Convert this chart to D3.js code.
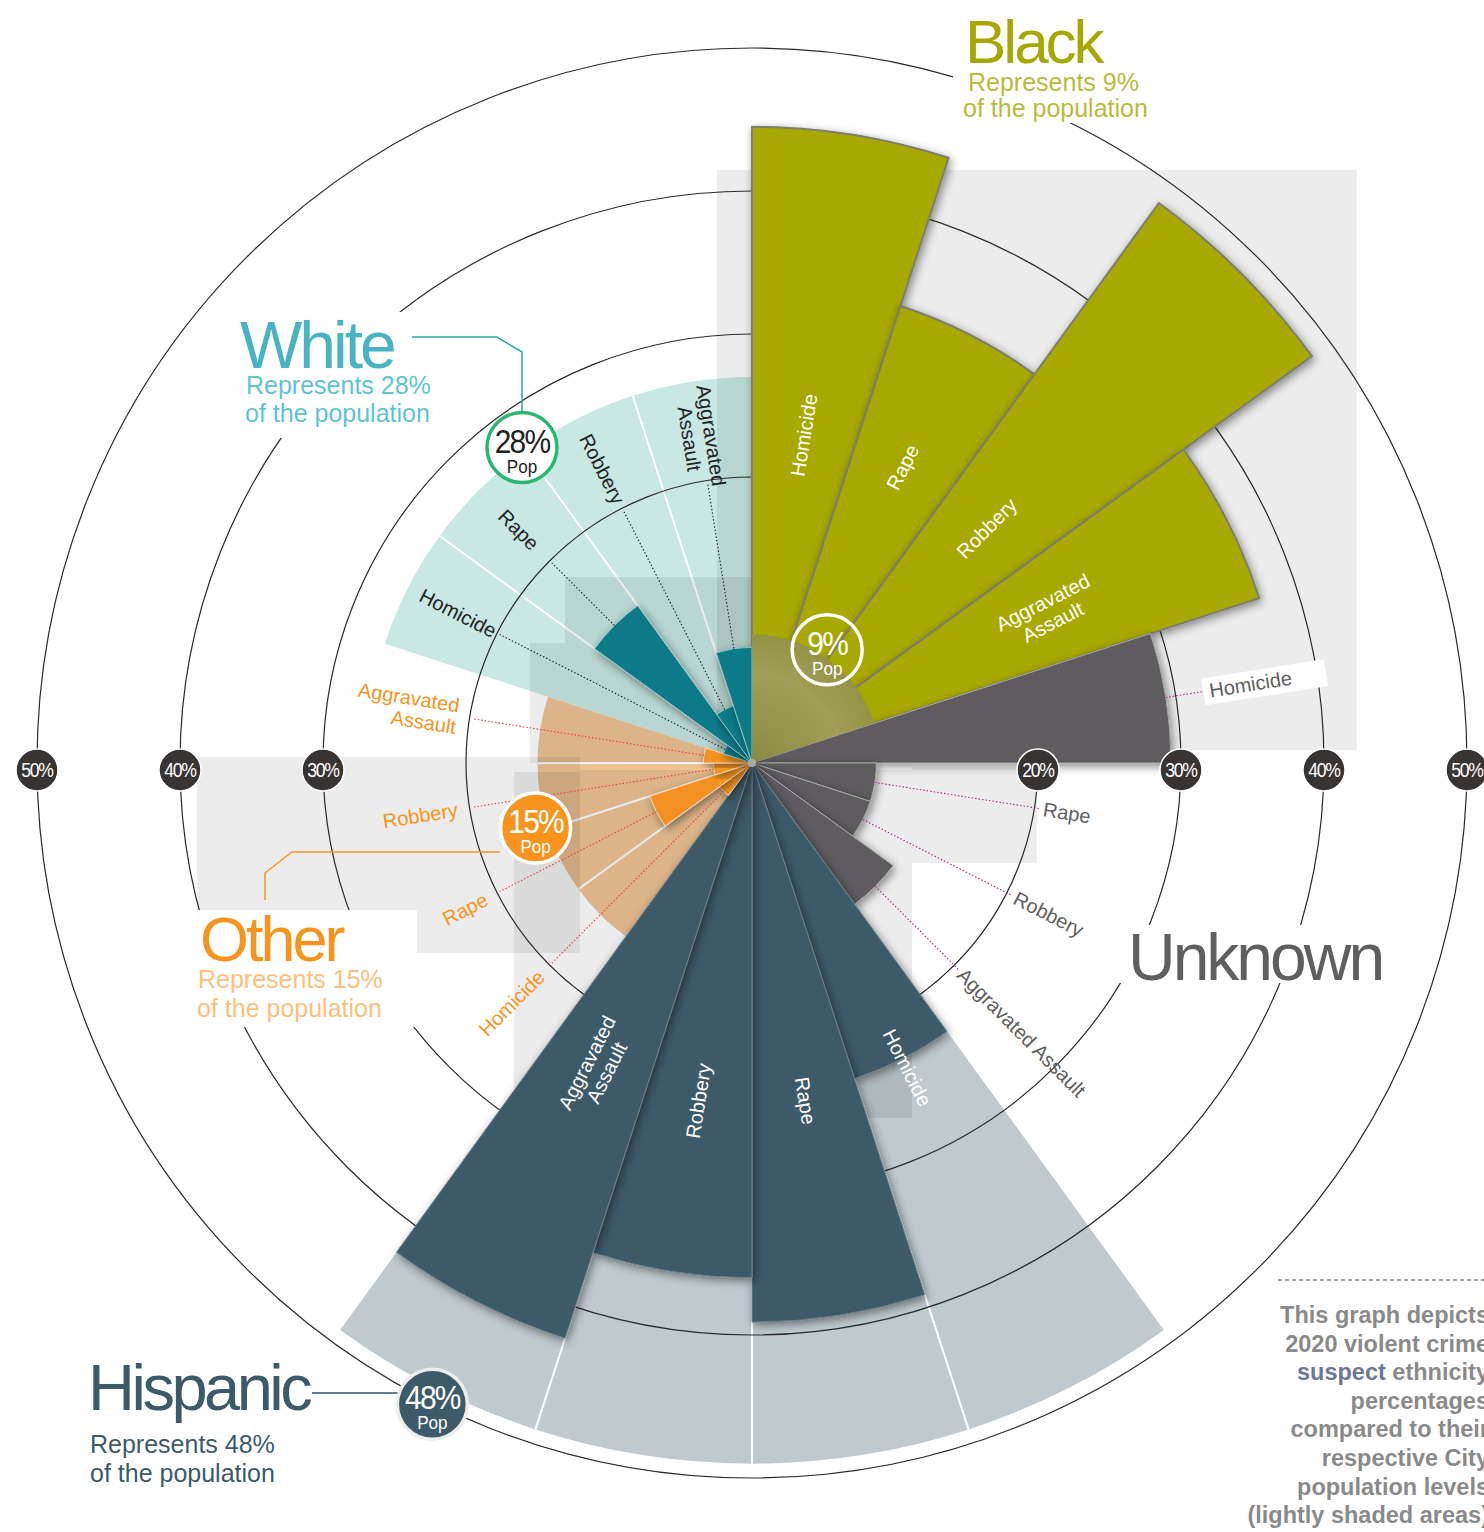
<!DOCTYPE html>
<html>
<head>
<meta charset="utf-8">
<script src="https://cdn.jsdelivr.net/npm/d3@7"></script>
<style>
body { margin: 0; background: #fff; overflow: hidden; }
svg { display: block; }
</style>
</head>
<body>
<svg id="chart"></svg>
<script>
// sections go clockwise from 12 o'clock, 4 crimes each
var ethnicities = ["Black", "Unknown", "Hispanic", "Other", "White"];
var crimes = ["Homicide", "Rape", "Robbery", "Aggravated Assault"];

// % of 2020 violent crime suspects
var blackPct    = [44.5, 33.6, 48.4, 37.3];
var unknownPct  = [29.3, 8.7, 8.7, 12.2];
var hispanicPct = [23.2, 39.1, 36.0, 42.3];
var otherPct    = [2.8, 7.5, 2.7, 3.4];
var whitePct    = [2.1, 13.6, 4.2, 8.1];

// population share (label) and how far the light shading is drawn
var popLabel = ["9%", "", "48%", "15%", "28%"];
var popShade = [9, 0, 49, 15, 27];

var ringTicks = [20, 30, 40, 50];
var leftTicks = [50, 40, 30];
var rightTicks = [20, 30, 40, 50];

var noteLines = ["This graph depicts", "2020 violent crime", "suspect ethnicity", "percentages",
	"compared to their", "respective City", "population levels", "(lightly shaded areas)"];

var WIDTH = 1484, HEIGHT = 1532;
var cx = 752, cy = 763;
var FONT = "'Liberation Sans', Arial, sans-serif";

var rScale = d3.scaleLinear().domain([0, 50]).range([0, 715]);
var slot = 2 * Math.PI / 20;

var sections = [
	{ vals: blackPct,    bar: "#a7a800", light: "#9d9a56", sep: "#7d7d70", txt: "#fff",    mode: "in",   labelR: 332 },
	{ vals: unknownPct,  bar: "#5e5c5f", light: null,      sep: "#a8a8a8", txt: "#5f5e60", mode: "out",  lead: "#a0288c" },
	{ vals: hispanicPct, bar: "#3d5a68", light: "#bfc9ce", sep: "#6d808b", txt: "#fff",    mode: "in",   labelR: 342 },
	{ vals: otherPct,    bar: "#f39220", light: "#efc394", sep: "#f5d6b4", txt: "#f7941d", mode: "lead", lead: "#e8413b" },
	{ vals: whitePct,    bar: "#0a7a89", light: "#c7e8e3", sep: "#8ec2c3", txt: "#222",    mode: "in",   labelR: 330, lead: "#222" }
];

var rows = [];
sections.forEach(function (s, si) {
	s.vals.forEach(function (v, ci) {
		var a0 = (si * 4 + ci) * slot;
		rows.push({ si: si, ci: ci, crime: crimes[ci], value: v, a0: a0, a1: a0 + slot, mid: a0 + slot / 2, sec: s });
	});
});

function pt(angle, rad) {
	return [rad * Math.sin(angle), -rad * Math.cos(angle)];
}

var svg = d3.select("#chart").attr("width", WIDTH).attr("height", HEIGHT);
var defs = svg.append("defs");
var filt = defs.append("filter").attr("id", "shadow")
	.attr("x", "-30%").attr("y", "-30%").attr("width", "160%").attr("height", "160%");
filt.append("feDropShadow").attr("dx", 2).attr("dy", 3).attr("stdDeviation", 5)
	.attr("flood-color", "#000").attr("flood-opacity", 0.45);

var grad = defs.append("radialGradient").attr("id", "blackPop").attr("cx", "0").attr("cy", "0").attr("r", "1")
	.attr("gradientUnits", "userSpaceOnUse").attr("gradientTransform", "scale(" + rScale(9) + ")");
grad.append("stop").attr("offset", "0%").attr("stop-color", "#8a8843");
grad.append("stop").attr("offset", "70%").attr("stop-color", "#a09e57");
grad.append("stop").attr("offset", "100%").attr("stop-color", "#959344");

var arc = d3.arc();

// ---- light population shading
var shadeLayer = svg.append("g").attr("transform", "translate(" + cx + "," + cy + ")");
sections.forEach(function (s, si) {
	if (!s.light || si === 0) return;
	shadeLayer.append("path")
		.attr("d", arc({ innerRadius: 0, outerRadius: rScale(popShade[si]), startAngle: si * 4 * slot, endAngle: (si + 1) * 4 * slot }))
		.attr("fill", s.light);
	for (var k = 1; k < 4; k++) {
		var p = pt((si * 4 + k) * slot, rScale(popShade[si]));
		shadeLayer.append("line").attr("x1", 0).attr("y1", 0).attr("x2", p[0]).attr("y2", p[1])
			.attr("stroke", "#fff").attr("stroke-width", 2);
	}
});

// ---- translucent grey panels behind the wheel
var panels = [
	[717, 170, 640, 580], [197, 757, 383, 153], [417, 910, 163, 43], [514, 772, 66, 163],
	[580, 770, 332, 348], [514, 935, 66, 183], [912, 767, 125, 96],
	[565, 577, 187, 66], [530, 643, 222, 120]
];
svg.append("g").selectAll("rect").data(panels).enter().append("rect")
	.attr("x", function (d) { return d[0]; }).attr("y", function (d) { return d[1]; })
	.attr("width", function (d) { return d[2]; }).attr("height", function (d) { return d[3]; })
	.attr("fill", "#000").attr("fill-opacity", 0.075);

// ---- rings
var g = svg.append("g").attr("transform", "translate(" + cx + "," + cy + ")");
g.selectAll(".ring").data(ringTicks).enter().append("circle")
	.attr("class", "ring").attr("r", function (d) { return rScale(d); })
	.attr("fill", "none").attr("stroke", "#2a2a2a").attr("stroke-width", 1.2);

// ---- bars
g.selectAll(".bar").data(rows).enter().append("path")
	.attr("class", "bar")
	.attr("d", function (d) { return arc({ innerRadius: 0, outerRadius: rScale(d.value), startAngle: d.a0, endAngle: d.a1 }); })
	.attr("fill", function (d) { return d.sec.bar; })
	.attr("stroke", function (d) { return d.sec.sep; })
	.attr("stroke-width", function (d) { return d.si === 0 ? 2 : 1; })
	.attr("filter", "url(#shadow)");

// black population shading sits on top of the olive bars
g.append("path")
	.attr("d", arc({ innerRadius: 0, outerRadius: rScale(popShade[0]), startAngle: 0, endAngle: 4 * slot }))
	.attr("fill", "url(#blackPop)");
g.append("circle").attr("r", 4).attr("fill", "#aaa");

// ---- leader lines
rows.forEach(function (d) {
	var s = d.sec;
	if (s.mode === "in" && d.si !== 4) return;
	var r0 = rScale(d.value), r1;
	if (s.mode === "out") r1 = Math.max(r0 + 40, 292);
	else r1 = rScale(19.8);
	var p0 = pt(d.mid, r0), p1 = pt(d.mid, r1);
	g.append("line").attr("x1", p0[0]).attr("y1", p0[1]).attr("x2", p1[0]).attr("y2", p1[1])
		.attr("stroke", s.lead).attr("stroke-width", 1.1).attr("stroke-dasharray", "1.5,2");
});

// ---- white boxes that break the rings behind the headings
var boxes = [[953, 0, 205, 123], [232, 312, 200, 126], [197, 910, 220, 117], [1118, 925, 270, 58]];
svg.append("g").selectAll("rect").data(boxes).enter().append("rect")
	.attr("x", function (d) { return d[0]; }).attr("y", function (d) { return d[1]; })
	.attr("width", function (d) { return d[2]; }).attr("height", function (d) { return d[3]; })
	.attr("fill", "#fff");

// ---- crime labels
rows.forEach(function (d) {
	var s = d.sec;
	var deg = d.mid * 180 / Math.PI;
	var rot = deg < 180 ? deg - 90 : deg - 270;
	var rad, anchor;
	if (s.mode === "in") { rad = s.labelR; anchor = "middle"; }
	else if (s.mode === "lead") { rad = 298; anchor = "end"; }
	else { rad = Math.max(rScale(d.value) + 44, 295); anchor = "start"; }
	var p = pt(d.mid, rad);
	var lg = g.append("g").attr("transform", "translate(" + p[0] + "," + p[1] + ") rotate(" + rot + ")");
	var twoLine = d.ci === 3 && s.mode !== "out";
	if (s.mode === "out" && d.ci === 0) {
		lg.append("rect").attr("x", -6).attr("y", -13).attr("width", 124).attr("height", 27).attr("fill", "#fff");
	}
	var t = lg.append("text").attr("text-anchor", anchor)
		.attr("font-family", FONT).attr("font-size", 20).attr("fill", s.txt);
	if (twoLine) {
		t.append("tspan").attr("x", 0).attr("y", -4).text("Aggravated");
		t.append("tspan").attr("x", 0).attr("y", 18).text("Assault");
	} else {
		t.attr("y", 7).text(d.crime);
	}
});

// ---- axis badges
var axisG = svg.append("g");
var axisData = leftTicks.map(function (v) { return { v: v, x: cx - rScale(v) }; })
	.concat(rightTicks.map(function (v) { return { v: v, x: cx + rScale(v) }; }));
var ab = axisG.selectAll("g").data(axisData).enter().append("g")
	.attr("transform", function (d) { return "translate(" + d.x + "," + (cy + 7) + ")"; });
ab.append("circle").attr("r", 21).attr("fill", "#383434").attr("stroke", "#fff").attr("stroke-width", 1.5);
ab.append("text").attr("text-anchor", "middle").attr("y", 7).attr("transform", "scale(0.84,1)")
	.attr("font-family", FONT).attr("font-size", 21).attr("letter-spacing", -1.5)
	.attr("fill", "#fff").text(function (d) { return d.v + "%"; });

// ---- connectors for the headings
var conn = svg.append("g").attr("fill", "none").attr("stroke-width", 1.5);
conn.append("path").attr("d", "M522,412V352L497,337H412").attr("stroke", "#2aa99f");
conn.append("path").attr("d", "M500,852H292L265,873V900").attr("stroke", "#f7941d");
conn.append("path").attr("d", "M398,1393H312").attr("stroke", "#5f7d8a").attr("stroke-width", 2);

// ---- population badges
var badgeSpots = [
	{ si: 0, ang: 33.6, val: 9.5,  fill: "none",    stroke: "#fff",    col: "#fff" },
	{ si: 2, ang: 206.5, val: 50.1, fill: "#3d5a68", stroke: "#ececec", col: "#fff" },
	{ si: 3, ang: 253.3, val: 15.8, fill: "#f7941d", stroke: "#fff",    col: "#fff" },
	{ si: 4, ang: 323.9, val: 27.3, fill: "#fff",    stroke: "#2bb673", col: "#222" }
];
badgeSpots.forEach(function (b) {
	var p = pt(b.ang * Math.PI / 180, rScale(b.val));
	var bg = svg.append("g").attr("transform", "translate(" + (cx + p[0]) + "," + (cy + p[1]) + ")");
	bg.append("circle").attr("r", 35).attr("fill", b.fill).attr("stroke", b.stroke).attr("stroke-width", 3.5);
	bg.append("text").attr("text-anchor", "middle").attr("y", 5).attr("transform", "scale(0.88,1)")
		.attr("font-family", FONT).attr("font-size", 34).attr("letter-spacing", -2)
		.attr("fill", b.col).text(popLabel[b.si]);
	bg.append("text").attr("text-anchor", "middle").attr("y", 25).attr("transform", "scale(0.9,1)")
		.attr("font-family", FONT).attr("font-size", 19)
		.attr("fill", b.col).text("Pop");
});

// ---- headings
var heads = [
	{ t: "Black",    x: 965,  y: 63,   c: "#a5a800", size: 62, ls: -3, sub: "#b9bb3c", sx: [968, 963], sy: [91, 117], p: 9 },
	{ t: "White",    x: 240,  y: 368,  c: "#48b3c2", size: 66, ls: -3, sub: "#5fc4d1", sx: [246, 245], sy: [394, 422], p: 28 },
	{ t: "Other",    x: 200,  y: 961,  c: "#f7941d", size: 63, ls: -3, sub: "#fcbf7c", sx: [198, 197], sy: [988, 1017], p: 15 },
	{ t: "Hispanic", x: 88,   y: 1410, c: "#3d5a68", size: 65, ls: -3.5, sub: "#3d5a68", sx: [90, 90], sy: [1453, 1482], p: 48 },
	{ t: "Unknown",  x: 1128, y: 980,  c: "#5f5e60", size: 66, ls: -3, sub: null }
];
heads.forEach(function (h) {
	svg.append("text").attr("x", h.x).attr("y", h.y)
		.attr("font-family", FONT).attr("font-size", h.size).attr("letter-spacing", h.ls)
		.attr("fill", h.c).text(h.t);
	if (!h.sub) return;
	svg.append("text").attr("x", h.sx[0]).attr("y", h.sy[0])
		.attr("font-family", FONT).attr("font-size", 25).attr("fill", h.sub)
		.text("Represents " + h.p + "%");
	svg.append("text").attr("x", h.sx[1]).attr("y", h.sy[1])
		.attr("font-family", FONT).attr("font-size", 25).attr("fill", h.sub)
		.text("of the population");
});

// ---- note, bottom right
svg.append("line").attr("x1", 1278).attr("x2", 1484).attr("y1", 1280).attr("y2", 1280)
	.attr("stroke", "#444").attr("stroke-dasharray", "4,3");
var note = svg.append("text").attr("text-anchor", "end")
	.attr("font-family", FONT).attr("font-size", 23.5).attr("font-weight", "bold").attr("fill", "#8a8a8a");
noteLines.forEach(function (line, i) {
	var ts = note.append("tspan").attr("x", 1489).attr("y", 1323 + i * 28.6);
	if (line.indexOf("suspect") === 0) {
		ts.append("tspan").attr("fill", "#6c7894").text("suspect");
		ts.append("tspan").text(line.slice(7));
	} else {
		ts.text(line);
	}
});
</script>
</body>
</html>
